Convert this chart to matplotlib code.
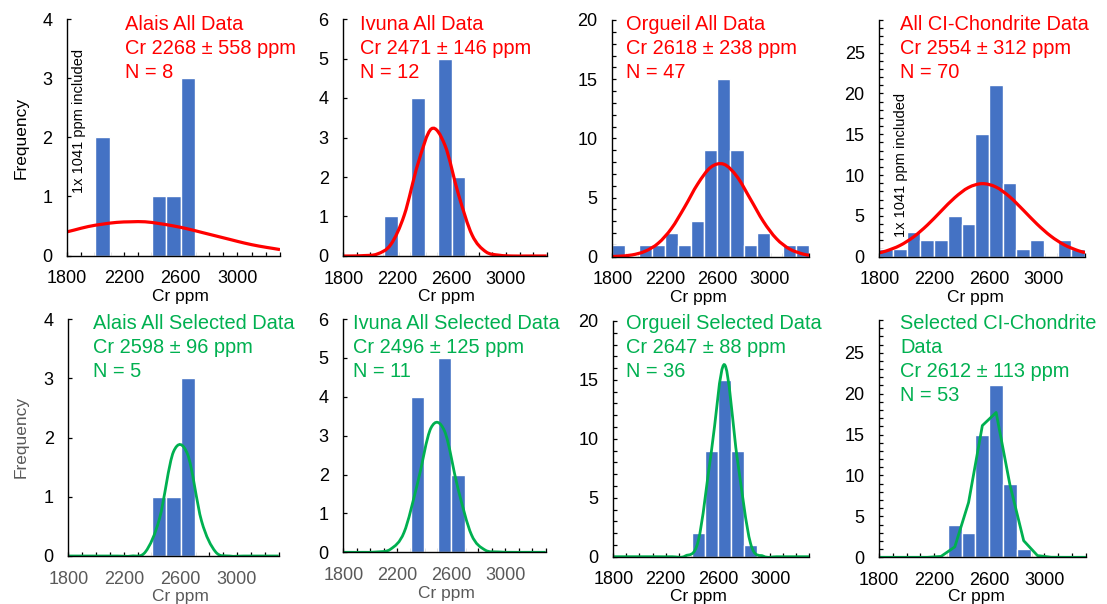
import numpy as np
import matplotlib
matplotlib.use("Agg")
import matplotlib.pyplot as plt
from matplotlib.path import Path
from matplotlib.patches import PathPatch
from matplotlib.ticker import MultipleLocator

plt.rcParams['font.family'] = ['Liberation Sans', 'DejaVu Sans']

W, H = 1107, 604

# histogram bins (100 ppm wide, left edges)
bin_left = [1800, 1900, 2000, 2100, 2200, 2300, 2400, 2500,
            2600, 2700, 2800, 2900, 3000, 3100, 3200]

# counts per bin
alais_all = [0, 0, 2, 0, 0, 0, 1, 1, 3, 0, 0, 0, 0, 0, 0]
ivuna_all = [0, 0, 0, 1, 0, 4, 0, 5, 2, 0, 0, 0, 0, 0, 0]
orgueil_all = [1, 0, 1, 1, 2, 1, 3, 9, 15, 9, 1, 2, 0, 1, 1]
ci_all = [1, 1, 3, 2, 2, 5, 4, 15, 21, 9, 1, 2, 0, 2, 1]
alais_sel = [0, 0, 0, 0, 0, 0, 1, 1, 3, 0, 0, 0, 0, 0, 0]
ivuna_sel = [0, 0, 0, 0, 0, 4, 0, 5, 2, 0, 0, 0, 0, 0, 0]
orgueil_sel = [0, 0, 0, 0, 0, 0, 2, 9, 15, 9, 1, 0, 0, 0, 0]
ci_sel = [0, 0, 0, 0, 0, 4, 3, 15, 21, 9, 1, 0, 0, 0, 0]

# fitted normal curves, read at the bin centres (plus axis ends)
fit_x = [1800, 1850, 1950, 2050, 2150, 2250, 2350, 2450, 2550,
         2650, 2750, 2850, 2950, 3050, 3150, 3250, 3300]
alais_all_fit = [0.40, 0.43, 0.49, 0.53, 0.56, 0.57, 0.57, 0.54, 0.50,
                 0.45, 0.39, 0.33, 0.27, 0.21, 0.16, 0.12, 0.10]
ivuna_all_fit = [0.0, 0.0, 0.01, 0.05, 0.29, 1.04, 2.33, 3.22, 2.80,
                 1.55, 0.53, 0.11, 0.02, 0.0, 0.0, 0.0, 0.0]
orgueil_all_fit = [0.02, 0.04, 0.15, 0.46, 1.14, 2.38, 4.18, 6.14, 7.56,
                   7.81, 6.76, 4.90, 2.98, 1.52, 0.65, 0.23, 0.13]
ci_all_fit = [0.48, 0.70, 1.37, 2.43, 3.87, 5.57, 7.23, 8.47, 8.95,
              8.54, 7.35, 5.71, 4.00, 2.53, 1.44, 0.74, 0.51]
alais_sel_fit = [0.0, 0.0, 0.0, 0.0, 0.0, 0.0, 0.07, 0.63, 1.76,
                 1.72, 0.59, 0.07, 0.0, 0.0, 0.0, 0.0, 0.0]
ivuna_sel_fit = [0.0, 0.0, 0.0, 0.01, 0.08, 0.51, 1.77, 3.20, 3.12,
                 1.64, 0.45, 0.06, 0.01, 0.0, 0.0, 0.0, 0.0]
orgueil_sel_fit = [0.0, 0.0, 0.0, 0.0, 0.0, 0.0, 0.06, 1.33, 8.88,
                   16.3, 8.22, 1.14, 0.04, 0.0, 0.0, 0.0, 0.0]
ci_sel_fit = [0.0, 0.0, 0.0, 0.0, 0.0, 0.11, 1.27, 6.7, 16.1,
              17.7, 8.87, 2.03, 0.21, 0.01, 0.0, 0.0, 0.0]

titles = [
    ["Alais All Data", "Cr 2268 \u00b1 558 ppm", "N = 8"],
    ["Ivuna All Data", "Cr 2471 \u00b1 146 ppm", "N = 12"],
    ["Orgueil All Data", "Cr 2618 \u00b1 238 ppm", "N = 47"],
    ["All CI-Chondrite Data", "Cr 2554 \u00b1 312 ppm", "N = 70"],
    ["Alais All Selected Data", "Cr 2598 \u00b1 96 ppm", "N = 5"],
    ["Ivuna All Selected Data", "Cr 2496 \u00b1 125 ppm", "N = 11"],
    ["Orgueil Selected Data", "Cr 2647 \u00b1 88 ppm", "N = 36"],
    ["Selected CI-Chondrite", "Data", "Cr 2612 \u00b1 113 ppm", "N = 53"],
]
note = "1x 1041 ppm included"

BLUE = '#4472C4'
RED = '#FF0000'
GREEN = '#00B050'
GREY = '#595959'

# plot boxes in pixels: left, right, top, bottom
boxes = [(67, 280, 19, 255.5), (343.3, 546.7, 19, 256),
         (612.3, 809.3, 20, 256.7), (879.3, 1085, 20, 256.7),
         (68.3, 278.7, 319, 556), (343.3, 545.7, 319, 552.3),
         (613.3, 809.3, 321, 556.7), (879, 1085.7, 320, 557.3)]
text_pos = [(125, 30), (360, 29.5), (625.7, 29.5), (900, 29.5),
            (93.3, 329), (353.3, 329), (625.7, 329), (900, 329)]
xlabel_pos = [(180, 301.5), (446.7, 301.5), (698, 301.5), (975, 301.5),
              (180, 600.5), (446.7, 598), (698, 601.5), (976.7, 601.5)]

panels = [
    (alais_all, alais_all_fit, RED, True, 4, None),
    (ivuna_all, ivuna_all_fit, RED, True, 6, None),
    (orgueil_all, orgueil_all_fit, RED, True, 20, 1),
    (ci_all, ci_all_fit, RED, True, 29, 1),
    (alais_sel, alais_sel_fit, GREEN, True, 4, None),
    (ivuna_sel, ivuna_sel_fit, GREEN, True, 6, None),
    (orgueil_sel, orgueil_sel_fit, GREEN, True, 20, 1),
    (ci_sel, ci_sel_fit, GREEN, False, 29, 1),
]


def smooth_path(x, y):
    # Catmull-Rom spline as cubic Bezier segments (like Excel's smoothed line)
    pts = np.column_stack([x, y]).astype(float)
    verts = [pts[0]]
    codes = [Path.MOVETO]
    n = len(pts)
    for i in range(n - 1):
        p0 = pts[max(i - 1, 0)]
        p1 = pts[i]
        p2 = pts[i + 1]
        p3 = pts[min(i + 2, n - 1)]
        verts += [p1 + (p2 - p0) / 6, p2 - (p3 - p1) / 6, p2]
        codes += [Path.CURVE4] * 3
    return Path(verts, codes)


fig = plt.figure(figsize=(W / 100, H / 100), dpi=100)

for i, (counts, fit, color, smooth, ymax, yminor) in enumerate(panels):
    left, right, top, bottom = boxes[i]
    ax = fig.add_axes([left / W, 1 - bottom / H, (right - left) / W, (bottom - top) / H])

    ax.bar(bin_left, counts, width=100, align='edge', color=BLUE,
           edgecolor='white', linewidth=1.0, zorder=2)
    lw = 2.3 if color == RED else 2.0
    if smooth:
        ax.add_patch(PathPatch(smooth_path(fit_x, fit), fill=False,
                               edgecolor=color, linewidth=lw, zorder=3))
    else:
        ax.plot(fit_x, fit, color=color, linewidth=lw, zorder=3)

    ax.set_xlim(1800, 3300)
    ax.set_ylim(0, ymax)
    ax.xaxis.set_minor_locator(MultipleLocator(100))
    ax.set_xticks([1800, 2200, 2600, 3000])
    if ymax > 10:
        ax.yaxis.set_major_locator(MultipleLocator(5))
    else:
        ax.yaxis.set_major_locator(MultipleLocator(1))
    if yminor:
        ax.yaxis.set_minor_locator(MultipleLocator(yminor))

    for side in ['top', 'right']:
        ax.spines[side].set_visible(False)
    for side in ['left', 'bottom']:
        ax.spines[side].set_linewidth(1.0)
        ax.spines[side].set_zorder(4)

    xcol = GREY if i in (4, 5) else 'black'
    ax.tick_params(axis='both', which='both', direction='in', width=0.9)
    ax.tick_params(axis='both', which='major', length=3.2, labelsize=13)
    ax.tick_params(axis='both', which='minor', length=3.0)
    ax.tick_params(axis='y', pad=10.5)
    ax.tick_params(axis='x', pad=10.5, labelcolor=xcol)

    # x axis title
    xl, yl = xlabel_pos[i]
    ax.set_xlabel("Cr ppm", fontsize=12.5, color=xcol)
    ax.xaxis.set_label_coords((xl - left) / (right - left), (bottom - yl) / (bottom - top))
    ax.xaxis.label.set_verticalalignment('baseline')

    if i in (0, 4):
        ax.set_ylabel("Frequency", fontsize=12.5, color=GREY if i == 4 else 'black')
        yc = 138 if i == 0 else 437
        ax.yaxis.set_label_coords((21 - left) / (right - left), (bottom - yc) / (bottom - top))
        ax.yaxis.label.set_verticalalignment('center')

    # red/green summary text
    tx, ty = text_pos[i]
    for k, line in enumerate(titles[i]):
        fig.text(tx / W, 1 - (ty + 24 * k) / H, line, fontsize=14.4, color=color,
                 ha='left', va='baseline')

# notes about the excluded low value
fig.text(79.5 / W, 1 - 121 / H, note, rotation=90, fontsize=10.5,
         ha='center', va='center')
fig.text(900.5 / W, 1 - 165 / H, note, rotation=90, fontsize=10.5,
         ha='center', va='center')

fig.savefig("out.png", dpi=100)
